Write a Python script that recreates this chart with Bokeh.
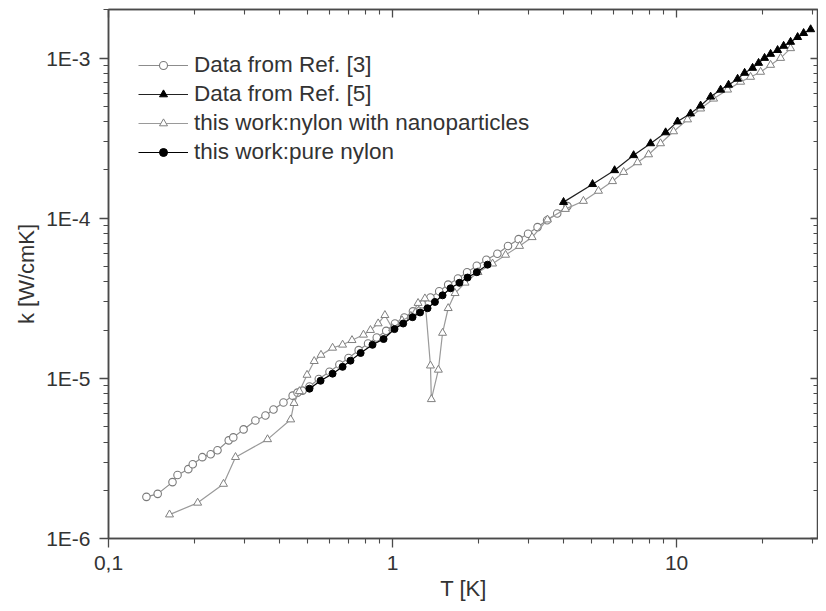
from bokeh.plotting import figure
from bokeh.models import (LogAxis, FixedTicker, CustomJSTickFormatter, Legend,
                          LegendItem, Range1d)
from bokeh.embed import file_html
from bokeh.resources import INLINE

# ---------------- data ----------------
ref3_T = [0.136, 0.149, 0.168, 0.175, 0.191, 0.198, 0.214, 0.229, 0.242, 0.265,
          0.275, 0.299, 0.329, 0.357, 0.381, 0.413, 0.445, 0.463, 0.482, 0.51,
          0.55, 0.60, 0.65, 0.70, 0.76, 0.82, 0.88, 0.95, 1.02, 1.10, 1.18,
          1.27, 1.36, 1.46, 1.57, 1.70, 1.83, 1.98, 2.14, 2.34, 2.55, 2.78,
          3.0, 3.24, 3.5, 3.8, 4.13]
ref3_k = [1.82e-6, 1.90e-6, 2.25e-6, 2.49e-6, 2.71e-6, 2.91e-6, 3.22e-6, 3.36e-6,
          3.56e-6, 4.10e-6, 4.28e-6, 4.80e-6, 5.46e-6, 5.86e-6, 6.39e-6, 7.06e-6,
          7.80e-6, 8.14e-6, 8.38e-6, 8.9e-6, 9.9e-6, 1.1e-5, 1.22e-5, 1.34e-5,
          1.5e-5, 1.65e-5, 1.8e-5, 1.98e-5, 2.2e-5, 2.4e-5, 2.62e-5, 2.9e-5,
          3.2e-5, 3.5e-5, 3.85e-5, 4.2e-5, 4.6e-5, 5.05e-5, 5.5e-5, 6.0e-5,
          6.7e-5, 7.4e-5, 8.0e-5, 8.8e-5, 9.7e-5, 1.07e-4, 1.19e-4]

ref5_T = [4.00, 5.06, 6.05, 7.06, 8.10, 9.15, 10.08, 11.20, 12.15, 13.18, 14.29,
          15.24, 16.40, 17.36, 18.52, 19.44, 20.41, 21.43, 22.68, 23.82, 25.20,
          26.68, 28.01, 29.65]
ref5_k = [1.26e-4, 1.63e-4, 1.99e-4, 2.47e-4, 2.93e-4, 3.43e-4, 4.01e-4, 4.50e-4,
          5.04e-4, 5.73e-4, 6.33e-4, 6.80e-4, 7.41e-4, 8.07e-4, 8.67e-4, 9.31e-4,
          1.00e-3, 1.06e-3, 1.12e-3, 1.19e-3, 1.26e-3, 1.35e-3, 1.43e-3, 1.51e-3]

nano_T = [0.164, 0.206, 0.254, 0.280, 0.363, 0.438, 0.45, 0.47, 0.50, 0.53, 0.56,
          0.615, 0.667, 0.72, 0.79, 0.836, 0.89, 0.94, 1.0, 1.08, 1.16, 1.23,
          1.30, 1.36, 1.37, 1.45, 1.50, 1.57, 1.66, 1.8, 2.0, 2.25, 2.5, 2.8,
          3.1, 3.51, 4.06, 4.70, 5.31, 5.95, 6.51, 7.29, 7.97, 8.78, 9.76,
          10.93, 12.15, 13.5, 15.12, 16.81, 18.22, 19.76, 21.43, 23.24, 25.2]
nano_k = [1.41e-6, 1.67e-6, 2.19e-6, 3.22e-6, 4.16e-6, 5.53e-6, 7.0e-6, 8.3e-6,
          1.05e-5, 1.28e-5, 1.40e-5, 1.55e-5, 1.62e-5, 1.73e-5, 1.87e-5, 2.0e-5,
          2.2e-5, 2.48e-5, 2.05e-5, 2.3e-5, 2.45e-5, 2.95e-5, 3.15e-5, 1.2e-5,
          7.4e-6, 1.13e-5, 1.92e-5, 2.74e-5, 3.4e-5, 3.95e-5, 4.6e-5, 5.2e-5,
          5.9e-5, 6.7e-5, 7.6e-5, 9.8e-5, 1.14e-4, 1.28e-4, 1.48e-4, 1.70e-4,
          1.94e-4, 2.23e-4, 2.50e-4, 2.93e-4, 3.48e-4, 4.13e-4, 4.83e-4, 5.57e-4,
          6.34e-4, 7.10e-4, 7.62e-4, 8.19e-4, 9.05e-4, 1.00e-3, 1.15e-3]

pure_T = [0.51, 0.558, 0.615, 0.667, 0.711, 0.772, 0.85, 0.93, 1.016, 1.09, 1.176,
          1.25, 1.328, 1.41, 1.5, 1.6, 1.72, 1.837, 1.98, 2.16]
pure_k = [8.62e-6, 9.66e-6, 1.07e-5, 1.18e-5, 1.29e-5, 1.44e-5, 1.62e-5, 1.76e-5,
          2.03e-5, 2.2e-5, 2.41e-5, 2.58e-5, 2.74e-5, 3.0e-5, 3.30e-5, 3.65e-5,
          3.95e-5, 4.26e-5, 4.6e-5, 5.13e-5]

labels = ["Data from Ref. [3]", "Data from Ref. [5]",
          "this work:nylon with nanoparticles", "this work:pure nylon"]

x_major = [0.1, 1, 10]
x_minor = [0.2, 0.3, 0.4, 0.5, 0.6, 0.7, 0.8, 0.9, 2, 3, 4, 5, 6, 7, 8, 9, 20, 30]
y_major = [1e-6, 1e-5, 1e-4, 1e-3]
y_minor = [m * 10.0 ** e for e in (-6, -5, -4) for m in range(2, 10)] + [2e-3]

FONT = "Liberation Sans"
AXC = "#4a4a4a"
TXT = "#333333"

p = figure(width=818, height=603, x_axis_type="log", y_axis_type="log",
           x_range=Range1d(0.1, 31.6), y_range=Range1d(1e-6, 2.01e-3),
           output_backend="svg", toolbar_location=None,
           min_border_left=108, min_border_right=0, min_border_top=9,
           min_border_bottom=61)
p.xgrid.visible = False
p.ygrid.visible = False
p.outline_line_color = AXC
p.outline_line_width = 1.5
p.background_fill_color = "white"
p.border_fill_color = "white"

xt = FixedTicker(ticks=x_major, minor_ticks=x_minor)
yt = FixedTicker(ticks=y_major, minor_ticks=y_minor)
xfmt = CustomJSTickFormatter(code="return tick.toString().replace('.', ',');")
yfmt = CustomJSTickFormatter(code="return '1E' + Math.round(Math.log10(tick));")
blank = CustomJSTickFormatter(code="return '';")


def style(ax, inside, show_labels):
    ax.axis_line_color = AXC
    ax.axis_line_width = 1.5
    ax.major_tick_line_color = AXC
    ax.minor_tick_line_color = AXC
    ax.major_tick_line_width = 1.3
    ax.minor_tick_line_width = 1.1
    if inside:
        ax.major_tick_in, ax.major_tick_out = 8, 0
        ax.minor_tick_in, ax.minor_tick_out = 5, 0
    else:
        ax.major_tick_in, ax.major_tick_out = 0, 9
        ax.minor_tick_in, ax.minor_tick_out = 0, 5
    if show_labels:
        ax.major_label_text_font = FONT
        ax.major_label_text_font_size = "21px"
        ax.major_label_text_color = TXT
        ax.axis_label_text_font = FONT
        ax.axis_label_text_font_size = "22px"
        ax.axis_label_text_font_style = "normal"
        ax.axis_label_text_color = TXT
    else:
        ax.major_label_standoff = 0


xa = p.xaxis[0]
xa.ticker = xt
xa.formatter = xfmt
xa.axis_label = "T [K]"
style(xa, False, True)
xa.major_label_standoff = 8
xa.axis_label_standoff = 3

ya = p.yaxis[0]
ya.ticker = yt
ya.formatter = yfmt
ya.axis_label = "k [W/cmK]"
style(ya, False, True)
ya.major_label_standoff = 9
ya.axis_label_standoff = 4

top = LogAxis(ticker=xt, formatter=blank)
style(top, True, False)
p.add_layout(top, "above")
right = LogAxis(ticker=yt, formatter=blank)
style(right, True, False)
p.add_layout(right, "right")

# ---------------- series ----------------
g3 = "#8c8c8c"
gn = "#9a9a9a"
l3 = p.line(ref3_T, ref3_k, line_color=g3, line_width=1.2)
s3 = p.scatter(ref3_T, ref3_k, marker="circle", size=7.5, fill_color="white",
               line_color="#7a7a7a", line_width=1.1)
ln = p.line(nano_T, nano_k, line_color=gn, line_width=1.2)
sn = p.scatter(nano_T, nano_k, marker="triangle", size=8, fill_color="white",
               line_color="#808080", line_width=1.0)
lp = p.line(pure_T, pure_k, line_color="black", line_width=1.2)
sp = p.scatter(pure_T, pure_k, marker="circle", size=7, fill_color="black",
               line_color="black")
l5 = p.line(ref5_T, ref5_k, line_color="#222222", line_width=1.2)
s5 = p.scatter(ref5_T, ref5_k, marker="triangle", size=8, fill_color="black",
               line_color="black")

legend = Legend(items=[
    LegendItem(label=labels[0], renderers=[l3, s3]),
    LegendItem(label=labels[1], renderers=[l5, s5]),
    LegendItem(label=labels[2], renderers=[ln, sn]),
    LegendItem(label=labels[3], renderers=[lp, sp]),
], location=(30, 373))
legend.border_line_color = None
legend.background_fill_alpha = 0
legend.glyph_width = 50
legend.glyph_height = 20
legend.label_height = 20
legend.spacing = 3
legend.padding = 0
legend.margin = 0
legend.label_standoff = 6
legend.label_text_font = FONT
legend.label_text_font_size = "22.5px"
legend.label_text_color = TXT
p.add_layout(legend)

open("out.html", "w").write(file_html(p, INLINE))
